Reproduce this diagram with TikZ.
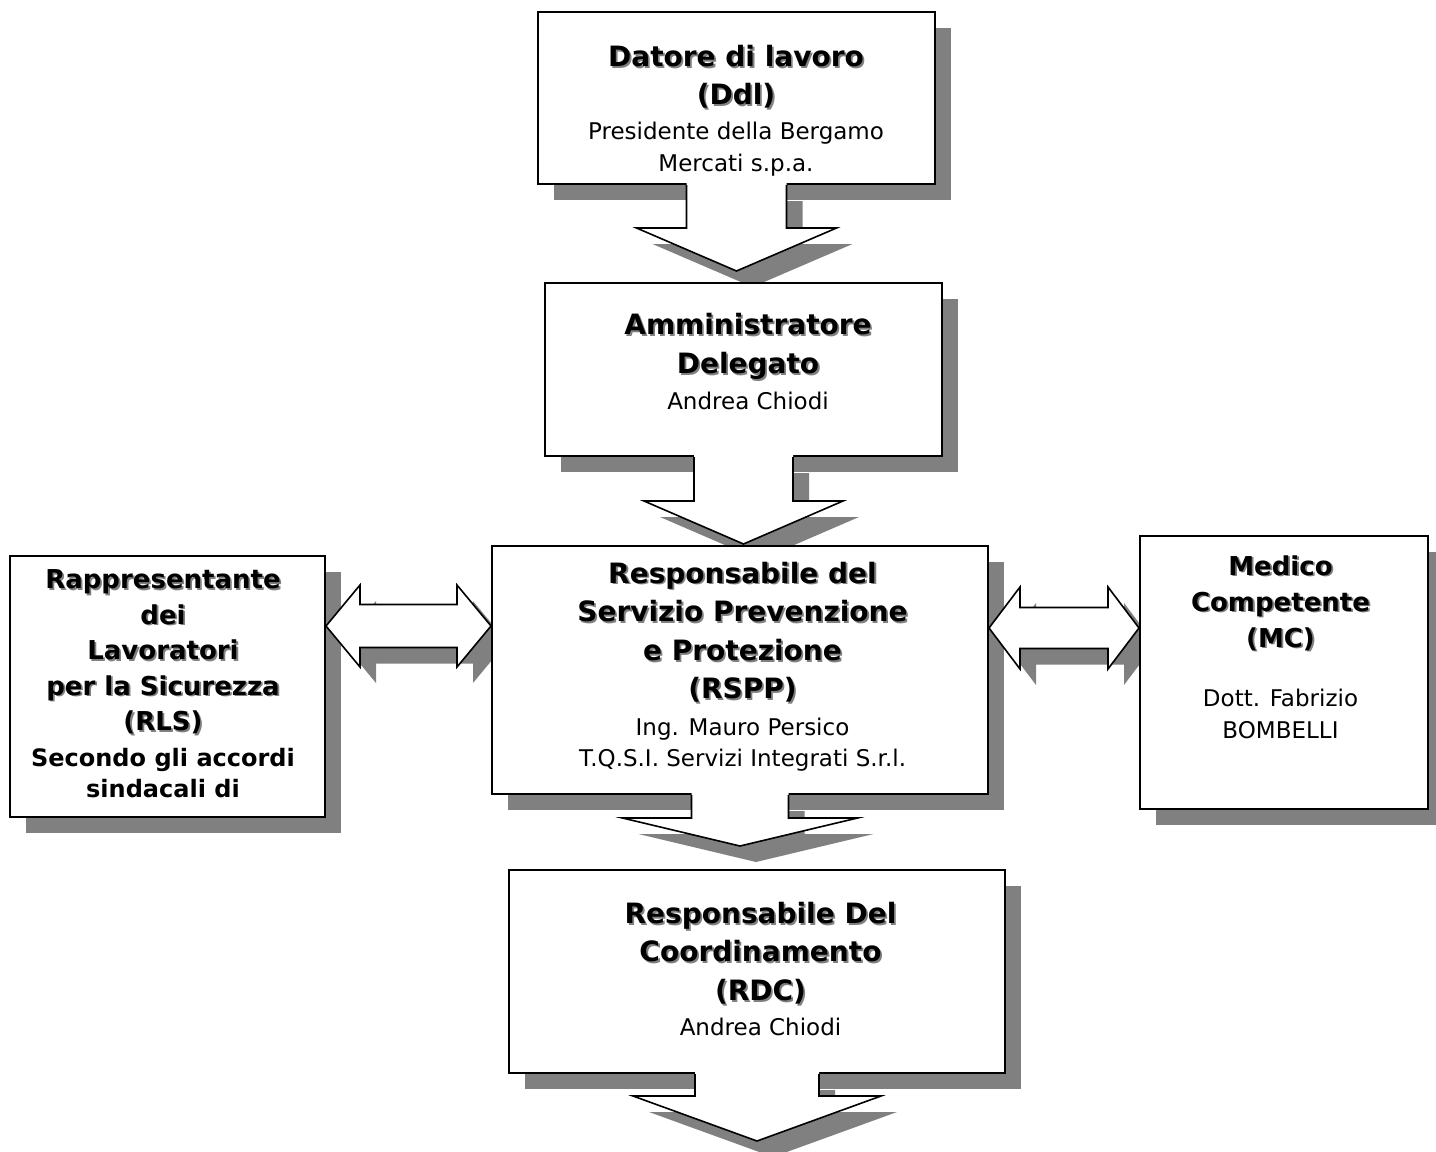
\documentclass[tikz,border=0pt]{standalone}
\usepackage{fontspec}
\setmainfont{DejaVu Sans}
\usetikzlibrary{calc,fit,shadows,backgrounds}

\definecolor{shadowgray}{HTML}{808080}
\newcommand\sh[1]{\makebox[0pt][l]{\kern0.9pt\raisebox{-0.9pt}{\textcolor{shadowgray}{#1}}}#1}
\newcommand\persfont{\fontsize{11.5}{16}\selectfont\mdseries}

\tikzset{
  box/.style={draw, line width=1pt, fill=white, inner sep=0pt,
    drop shadow={opacity=1, fill=shadowgray, shadow xshift=8pt, shadow yshift=-8pt}},
  ttl/.style={align=center, inner sep=0pt, anchor=base,
    font=\fontsize{14}{19.3}\selectfont\bfseries},
  ttlsmall/.style={ttl, font=\fontsize{13}{17.75}\selectfont\bfseries},
  blockline/.style={line width=0.8pt, line join=miter}
}

\begin{document}
\begin{tikzpicture}[x=0.5pt, y=-0.5pt]
  \def\off{16}
  \useasboundingbox (0,0) rectangle (1436,1152);

  % boxes
  \node[box, fit={(538,12) (935,184)}] (ddl) {};
  \node[box, fit={(545,283) (942,456)}] (ad) {};
  \node[box, fit={(10,556) (325,817)}] (rls) {};
  \node[box, fit={(492,546) (988,794)}] (rspp) {};
  \node[box, fit={(1140,536) (1428,809)}] (mc) {};
  \node[box, fit={(509,870) (1005,1073)}] (rdc) {};

  % texts (base = last line)
  \node[ttl] (ddl-txt) at ($(ddl.north)+(-0.5,160)$)
    {\sh{Datore di lavoro}\\\sh{(Ddl)}\\[-2pt]{\persfont Presidente della Bergamo}\\[-3.5pt]{\persfont Mercati s.p.a.}};
  \node[ttl] (ad-txt) at ($(ad.north)+(4.5,127)$)
    {\sh{Amministratore}\\\sh{Delegato}\\[-1.5pt]{\persfont Andrea Chiodi}};
  \node[ttl] (rspp-txt) at ($(rspp.north)+(2.5,221)$)
    {\sh{Responsabile del}\\\sh{Servizio Prevenzione}\\\sh{e Protezione}\\\sh{(RSPP)}\\[-1pt]{\persfont Ing. Mauro Persico}\\[-4pt]{\persfont T.Q.S.I. Servizi Integrati S.r.l.}};
  \node[ttl] (rdc-txt) at ($(rdc.north)+(3.5,166)$)
    {\sh{Responsabile Del}\\\sh{Coordinamento}\\\sh{(RDC)}\\[-2pt]{\persfont Andrea Chiodi}};
  \node[ttlsmall] (rls-txt) at ($(rls.north)+(-4.5,242)$)
    {\sh{Rappresentante}\\\sh{dei}\\\sh{Lavoratori}\\\sh{per la Sicurezza}\\\sh{(RLS)}\\{\fontsize{12}{16}\selectfont Secondo gli accordi}\\[-2.25pt]{\fontsize{12}{16}\selectfont sindacali di}};
  \node[ttlsmall, font=\fontsize{13}{18}\selectfont\bfseries] (mc-txt) at ($(mc.north)+(-3.5,203)$)
    {\sh{Medico}\\\sh{Competente}\\\sh{(MC)}\\[11.5pt]{\persfont Dott. Fabrizio}\\[-2pt]{\persfont BOMBELLI}};

  % down arrows
  \foreach \src/\sw/\hw/\len/\hd in {ddl/50/100/43/43, ad/49.5/99.5/44/43, rspp/48.5/117.5/23/28, rdc/62/124/22/45} {
    \begin{pgfonlayer}{background}
      \fill[shadowgray] ($(\src.south)+(\off-\sw,\off)$) -- ++(0,\len) -- ++(\sw-\hw,0) -- ++(\hw,\hd)
        -- ++(\hw,-\hd) -- ++(\sw-\hw,0) -- ++(0,-\len) -- cycle;
    \end{pgfonlayer}
    \fill[white] ($(\src.south)+(-\sw,-2)$) -- ++(0,\len+2) -- ++(\sw-\hw,0) -- ++(\hw,\hd)
      -- ++(\hw,-\hd) -- ++(\sw-\hw,0) -- ++(0,-\len-2) -- cycle;
    \draw[blockline] ($(\src.south)+(-\sw,0)$) -- ++(0,\len) -- ++(\sw-\hw,0) -- ++(\hw,\hd)
      -- ++(\hw,-\hd) -- ++(\sw-\hw,0) -- ++(0,-\len);
  }

  % double arrows
  \coordinate (l1) at ($(rls.north east)+(0,71)$);
  \coordinate (l2) at (rspp.west |- l1);
  \coordinate (r1) at ($(rspp.north east)+(0,83)$);
  \coordinate (r2) at (mc.west |- r1);
  \foreach \ta/\tb/\p/\sw/\hw in {l1/l2/34/21.5/41, r1/r2/31/20.5/41} {
    \begin{pgfonlayer}{background}
      \fill[shadowgray] ($(\ta)+(\off,\off)$) -- ++(\p,-\hw) -- ++(0,\hw-\sw) -- ($(\tb)+(\off-\p,\off-\sw)$)
        -- ++(0,\sw-\hw) -- ($(\tb)+(\off,\off)$) -- ++(-\p,\hw) -- ++(0,\sw-\hw)
        -- ($(\ta)+(\off+\p,\off+\sw)$) -- ++(0,\hw-\sw) -- cycle;
    \end{pgfonlayer}
    \draw[blockline, fill=white] (\ta) -- ++(\p,-\hw) -- ++(0,\hw-\sw) -- ($(\tb)+(-\p,-\sw)$)
      -- ++(0,\sw-\hw) -- (\tb) -- ++(-\p,\hw) -- ++(0,\sw-\hw)
      -- ($(\ta)+(\p,\sw)$) -- ++(0,\hw-\sw) -- cycle;
  }
\end{tikzpicture}
\end{document}
